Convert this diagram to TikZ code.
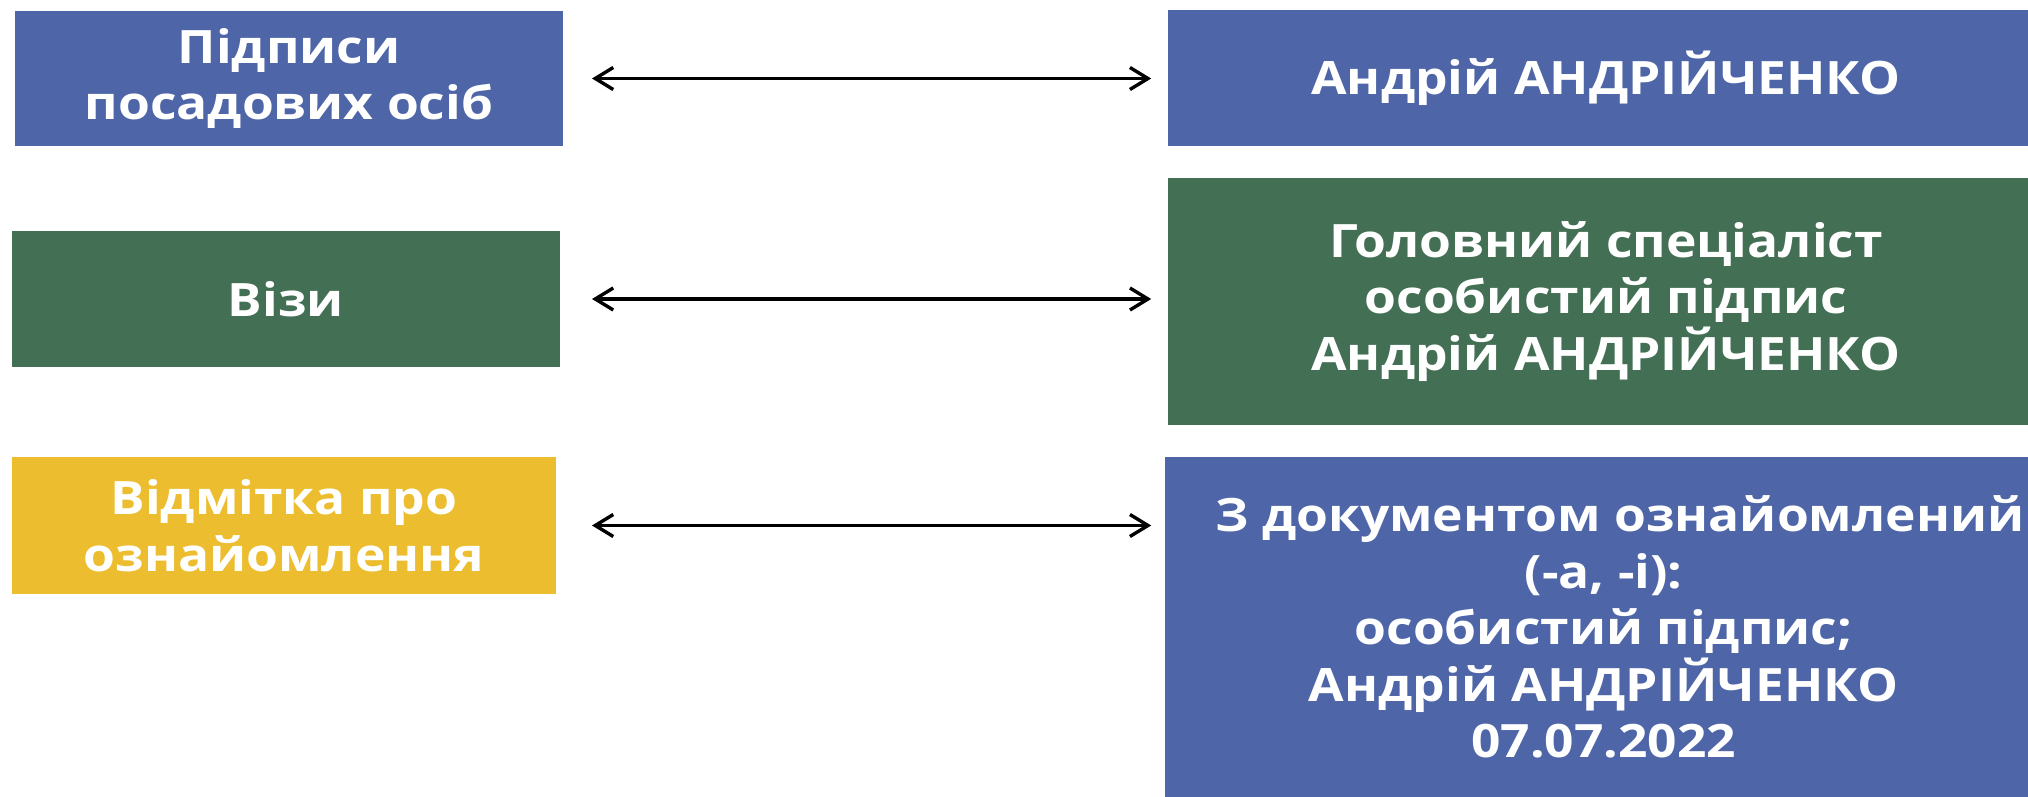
\documentclass[tikz,border=0pt]{standalone}
\usepackage{fontspec}
\setmainfont{Open Sans}[BoldFont={Open Sans Bold}, BoldFeatures={FakeStretch=1.12}]
\usetikzlibrary{arrows.meta}
\definecolor{cblue}{RGB}{78,101,167}
\definecolor{cgreen}{RGB}{67,112,84}
\definecolor{cyellow}{RGB}{236,189,46}
\newcommand\rline[2][8pt]{\hspace*{#1}#2}
\tikzset{
  box/.style={rectangle, inner sep=0pt, text=white, align=center,
    font=\fontsize{23pt}{28.3pt}\selectfont\bfseries},
  link/.style={line width=1.7pt, {Straight Barb[length=9pt,width=11pt]}-{Straight Barb[length=9pt,width=11pt]}}
}
\begin{document}
\begin{tikzpicture}[x=0.5pt,y=-0.5pt]
\useasboundingbox (0,0) rectangle (2028,797);
\node[box, fill=cblue, minimum width=274pt, minimum height=67.5pt] (L1) at (289,78.5) {Підписи\\посадових осіб};
\node[box, fill=cgreen, minimum width=274pt, minimum height=68pt] (L2) at (286,299) {Візи};
\node[box, fill=cyellow, minimum width=272pt, minimum height=68.5pt] (L3) at (284,525.5) {Відмітка про\\ознайомлення};
\node[box, fill=cblue, minimum width=430pt, minimum height=68pt] (R1) at (1598,78) {\rline{Андрій АНДРІЙЧЕНКО}};
\node[box, fill=cgreen, minimum width=430pt, minimum height=123.5pt] (R2) at (1598,301.5) {\rline{Головний спеціаліст}\\\rline{особистий підпис}\\\rline{Андрій АНДРІЙЧЕНКО}};
\node[box, fill=cblue, minimum width=431.5pt, minimum height=170pt] (R3) at (1596.5,627) {\rline[23.5pt]{З документом ознайомлений}\\\rline[7pt]{(-а, -і):}\\\rline[7pt]{особистий підпис;}\\\rline[7pt]{Андрій АНДРІЙЧЕНКО}\\\rline[7pt]{07.07.2022}};
\draw[link, shorten <=14.3pt, shorten >=8.2pt] (L1.east) -- (L1.east -| R1.west);
\draw[link, shorten <=15.8pt, shorten >=8.2pt] (L2.east) -- (L2.east -| R2.west);
\draw[link, shorten <=17.8pt, shorten >=6.7pt] (L3.east) -- (L3.east -| R3.west);
\end{tikzpicture}
\end{document}
